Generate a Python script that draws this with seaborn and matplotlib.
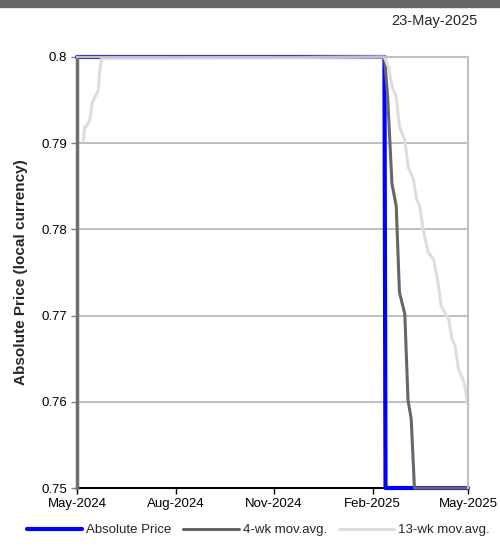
import pandas as pd
import seaborn as sns
import matplotlib.pyplot as plt
import matplotlib.dates as mdates
from matplotlib.patches import Rectangle

# datos (vertices de cada serie)
price_dates = ["2024-05-23", "2025-03-06", "2025-03-07", "2025-05-23"]
price_vals = [0.8, 0.8, 0.75, 0.75]

wk4_dates = ["2024-05-23", "2025-03-06", "2025-03-09", "2025-03-13", "2025-03-17",
             "2025-03-20", "2025-03-25", "2025-03-28", "2025-03-31", "2025-04-03",
             "2025-05-23"]
wk4_vals = [0.8, 0.8, 0.7954, 0.7853, 0.7827, 0.7727, 0.7702, 0.7602, 0.758, 0.75, 0.75]

wk13_dates = ["2024-05-29", "2024-05-30", "2024-06-01", "2024-06-04", "2024-06-06",
              "2024-06-09", "2024-06-12", "2024-06-13", "2024-06-15", "2025-03-06",
              "2025-03-10", "2025-03-13", "2025-03-17", "2025-03-20", "2025-03-25",
              "2025-03-28", "2025-04-02", "2025-04-05", "2025-04-08", "2025-04-11",
              "2025-04-16", "2025-04-21", "2025-04-25", "2025-04-28", "2025-05-01",
              "2025-05-05", "2025-05-08", "2025-05-11", "2025-05-14", "2025-05-17",
              "2025-05-20", "2025-05-23"]
wk13_vals = [0.7902, 0.7918, 0.7920, 0.7927, 0.7946, 0.7954, 0.7962, 0.7981, 0.7998, 0.8,
             0.7987, 0.7966, 0.7954, 0.7919, 0.7904, 0.7873, 0.7858, 0.7835, 0.7827, 0.7800,
             0.7773, 0.7765, 0.7738, 0.7711, 0.7704, 0.7696, 0.7673, 0.7665, 0.7638, 0.7630,
             0.7619, 0.7596]

x_ticks = ["2024-05-23", "2024-08-23", "2024-11-23", "2025-02-23", "2025-05-23"]
y_ticks = [0.75, 0.76, 0.77, 0.78, 0.79, 0.8]
series_names = ["Absolute Price", "4-wk mov.avg.", "13-wk mov.avg."]
report_date = "23-May-2025"

sns.set_style("white")
plt.rcParams["font.family"] = ["Liberation Sans", "DejaVu Sans"]

df_price = pd.DataFrame({"fecha": pd.to_datetime(price_dates), "valor": price_vals})
df_4 = pd.DataFrame({"fecha": pd.to_datetime(wk4_dates), "valor": wk4_vals})
df_13 = pd.DataFrame({"fecha": pd.to_datetime(wk13_dates), "valor": wk13_vals})

fig = plt.figure(figsize=(5, 5.5), dpi=100)
ax = fig.add_axes([0.154, 0.1127, 0.782, 0.7837])

sns.lineplot(data=df_price, x="fecha", y="valor", color="#0000ff", linewidth=3,
             label=series_names[0], ax=ax, zorder=3, clip_on=False)
sns.lineplot(data=df_4, x="fecha", y="valor", color="#666666", linewidth=2.2,
             label=series_names[1], ax=ax, zorder=4, clip_on=False)
sns.lineplot(data=df_13, x="fecha", y="valor", color="#dddddd", linewidth=2.2,
             label=series_names[2], ax=ax, zorder=5, clip_on=False)

ax.set_xlim(pd.Timestamp(x_ticks[0]), pd.Timestamp(x_ticks[-1]))
ax.set_ylim(y_ticks[0], y_ticks[-1])
ax.set_xticks(pd.to_datetime(x_ticks))
ax.xaxis.set_major_formatter(mdates.DateFormatter("%b-%Y"))
ax.set_yticks(y_ticks)
ax.set_yticklabels(["%g" % v for v in y_ticks])
ax.tick_params(axis="both", labelsize=9.5, length=4, width=1, direction="out",
               left=True, bottom=True, pad=3, colors="black")
ax.tick_params(axis="y", color="#808080")

# lineas horizontales de la cuadricula
for v in y_ticks[1:-1]:
    ax.axhline(v, color="#b4b4b4", linewidth=1.2, zorder=1)

ax.spines["left"].set_color("#707070")
ax.spines["left"].set_linewidth(2.5)
ax.spines["left"].set_zorder(10)
ax.spines["bottom"].set_color("black")
ax.spines["bottom"].set_linewidth(1.5)
ax.spines["bottom"].set_zorder(2)
for s in ["top", "right"]:
    ax.spines[s].set_color("#c0c0c0")
    ax.spines[s].set_linewidth(1.5)
    ax.spines[s].set_zorder(10)

ax.set_xlabel("")
ax.set_ylabel("Absolute Price (local currency)", fontsize=11, fontweight="bold")
ax.yaxis.set_label_coords(-0.125, 0.5)

handles, labels = ax.get_legend_handles_labels()
ax.get_legend().remove()
fig.legend(handles, labels, loc="center", bbox_to_anchor=(0.516, 0.036), ncol=3,
           frameon=False, fontsize=9.5, handlelength=4.2, handletextpad=0.3,
           columnspacing=0.9)

# barra gris superior y fecha
fig.add_artist(Rectangle((0, 1 - 7 / 550), 1, 7 / 550, transform=fig.transFigure,
                         color="#666666", zorder=0))
fig.text(478 / 500, 1 - 21 / 550, report_date, ha="right", va="center", fontsize=10.5)

fig.savefig("out.png", dpi=100)
